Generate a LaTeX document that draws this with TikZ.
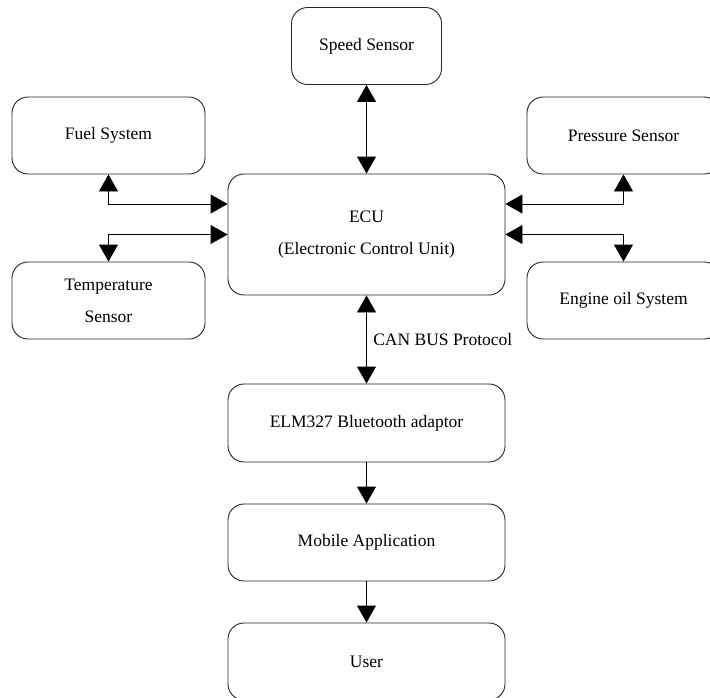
\documentclass[tikz,border=0pt]{standalone}
\usepackage{fontspec}
\setmainfont{Liberation Serif}
\usetikzlibrary{arrows.meta}

\begin{document}
\begin{tikzpicture}[x=1pt, y=-1pt,
    block/.style={draw=black!85, line width=0.9pt, rounded corners=16pt,
        align=center, inner sep=0pt, minimum height=77pt},
    small block/.style={block, minimum width=193pt},
    wide block/.style={block, minimum width=277pt},
    link/.style={line width=0.9pt, -{Triangle[length=17pt, width=19pt]}},
    both link/.style={line width=0.9pt, {Triangle[length=17pt, width=19pt]}-{Triangle[length=17pt, width=19pt]}},
    every node/.style={font=\fontsize{17.5}{32}\selectfont, text=black}
]
    \useasboundingbox (0,0) rectangle (710,697);

    % sensors and systems around the ECU
    \node[block, minimum width=150pt] (speed) at (366.5,46) {Speed Sensor};
    \node[small block] (fuel) at (108.5,135.5) {Fuel System};
    \node[small block] (pressure) at (623.5,135.5) {Pressure Sensor};
    \node[small block] (temp) at (108.5,300.5) {Temperature\\Sensor};
    \node[small block] (oil) at (623.5,300.5) {Engine oil System};
    \node[wide block, minimum height=121pt] (ecu) at (366.5,234.5)
        {ECU\\(Electronic Control Unit)};

    % chain down to the user
    \node[wide block, minimum height=78pt] (elm) at (366.5,423) {ELM327 Bluetooth adaptor};
    \node[wide block] (mobile) at (366.5,542.5) {Mobile Application};
    \node[wide block] (user) at (366.5,661.5) {User};

    \draw[both link] (speed) -- (ecu);
    \draw[both link] (fuel.south) |- ([yshift=30.5pt]ecu.west);
    \draw[both link] (temp.north) |- (ecu.west);
    \draw[both link] (pressure.south) |- ([yshift=30.5pt]ecu.east);
    \draw[both link] (oil.north) |- (ecu.east);

    \draw[both link] (ecu) -- node[right=3pt] {CAN BUS Protocol} (elm);
    \draw[link] (elm) -- (mobile);
    \draw[link] (mobile) -- (user);
\end{tikzpicture}
\end{document}
